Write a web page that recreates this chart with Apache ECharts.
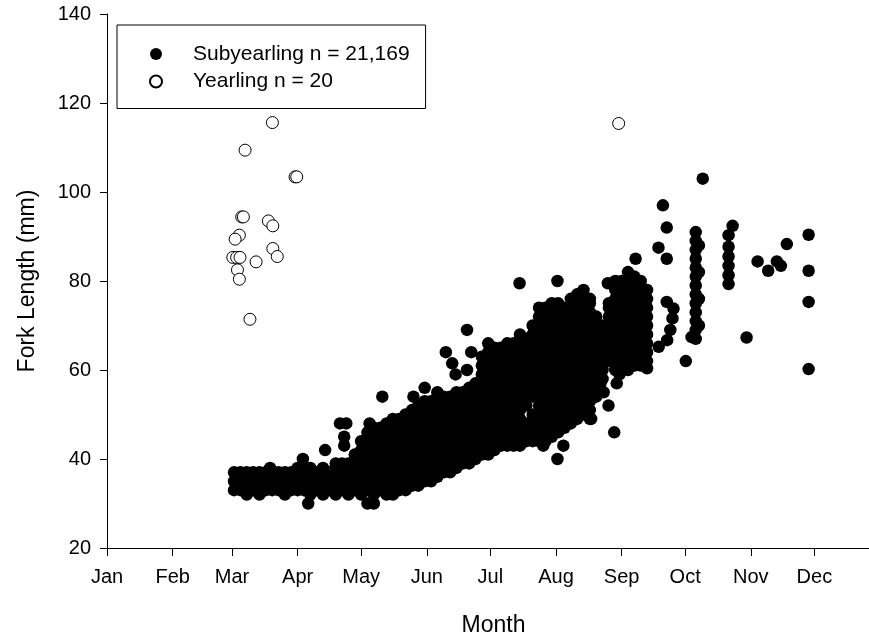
<!DOCTYPE html>
<html>
<head>
<meta charset="utf-8">
<script src="https://cdn.jsdelivr.net/npm/echarts@6/dist/echarts.min.js"></script>
<style>
  html, body { margin: 0; padding: 0; background: #fff; }
  #chart { width: 869px; height: 639px; }
</style>
</head>
<body>
<div id="chart"></div>
<script>
// x = days since Jan 1, y = fork length (mm)
const monthLabels = ['Jan', 'Feb', 'Mar', 'Apr', 'May', 'Jun', 'Jul', 'Aug', 'Sep', 'Oct', 'Nov', 'Dec'];
const monthStartDays = [0, 31, 59, 90, 120, 151, 181, 212, 243, 273, 304, 334];

// subyearling catch: [day, [lengths]]
const subyearlingColumns = [
    [60, [33, 35, 37]], [63, [33, 35, 37]], [66, [32, 33, 35, 37]], [69, [33, 35, 37]],
    [72, [32, 33, 35, 37]], [75, [33, 35, 37]], [78, [33, 35, 37]], [81, [33, 35, 37]],
    [84, [32, 33, 35, 37]], [87, [33, 35, 37]], [90, [33, 35, 37, 38]], [93, [33, 35, 37, 38]],
    [96, [32, 34, 36, 38]], [99, [33, 35, 37]], [102, [32, 34, 36, 38]], [105, [33, 35, 37]],
    [108, [32, 34, 36, 38, 39]], [111, [33, 35, 37, 39]], [114, [32, 34, 36, 38, 39]],
    [117, [33, 35, 37, 39, 41]], [120, [32, 34, 36, 38, 40, 42, 44]],
    [123, [33, 35, 37, 39, 41, 43, 45, 46]], [126, [32, 34, 36, 38, 40, 42, 44, 46, 47]],
    [129, [33, 35, 37, 39, 41, 43, 45, 47]], [132, [32, 34, 36, 38, 40, 42, 44, 46, 48]],
    [135, [32, 34, 36, 38, 40, 42, 44, 46, 48, 49]], [138, [33, 35, 37, 39, 41, 43, 45, 47, 49]],
    [141, [33, 35, 37, 39, 41, 43, 45, 47, 49, 50]], [144, [34, 36, 38, 40, 42, 44, 46, 48, 50, 51]],
    [147, [34, 36, 38, 40, 42, 44, 46, 48, 50, 52]], [150, [35, 37, 39, 41, 43, 45, 47, 49, 51, 53]],
    [153, [35, 37, 39, 41, 43, 45, 47, 49, 51, 53]], [156, [36, 38, 40, 42, 44, 46, 48, 50, 52, 54]],
    [159, [37, 39, 41, 43, 45, 47, 49, 51, 53, 54]], [162, [37, 39, 41, 43, 45, 47, 49, 51, 53, 54]],
    [165, [38, 40, 42, 44, 46, 48, 50, 52, 54, 55]], [168, [39, 41, 43, 45, 47, 49, 51, 53, 55]],
    [171, [39, 41, 43, 45, 47, 49, 51, 53, 55, 56]], [174, [40, 42, 44, 46, 48, 50, 52, 54, 56, 57]],
    [177, [41, 43, 45, 47, 49, 51, 53, 55, 57, 59, 61, 63]],
    [180, [41, 43, 45, 47, 49, 51, 53, 55, 57, 59, 61, 63, 64]],
    [183, [42, 44, 46, 48, 50, 52, 54, 56, 58, 60, 62, 64, 65]],
    [186, [43, 45, 47, 49, 51, 53, 55, 57, 59, 61, 63, 65]],
    [189, [43, 45, 47, 49, 51, 53, 55, 57, 59, 61, 63, 65, 66]],
    [192, [43, 45, 47, 49, 51, 53, 55, 57, 59, 61, 63, 65, 66]],
    [195, [43, 45, 47, 49, 51, 53, 55, 57, 59, 61, 63, 65, 67, 68]],
    [198, [44, 46, 48, 52, 54, 56, 58, 60, 62, 64, 66, 67]],
    [201, [44, 46, 48, 50, 54, 56, 58, 60, 62, 64, 66, 68, 70]],
    [204, [44, 46, 48, 50, 52, 54, 56, 58, 60, 62, 64, 66, 68, 70, 72, 74]],
    [207, [44, 46, 48, 50, 52, 54, 56, 58, 60, 62, 64, 66, 68, 70, 72, 74]],
    [210, [45, 47, 49, 51, 53, 55, 57, 59, 61, 63, 65, 67, 69, 71, 73, 75]],
    [213, [46, 48, 50, 52, 54, 56, 58, 60, 62, 64, 66, 68, 70, 72, 74, 75]],
    [216, [47, 49, 51, 53, 55, 57, 59, 61, 63, 65, 67, 69, 71, 73, 74]],
    [219, [48, 50, 52, 54, 56, 58, 60, 62, 64, 66, 68, 70, 72, 74, 76]],
    [222, [49, 51, 53, 55, 57, 59, 61, 63, 65, 67, 69, 71, 73, 75, 77]],
    [225, [50, 52, 54, 56, 58, 60, 62, 64, 66, 68, 70, 72, 74, 76, 78]],
    [228, [49, 51, 53, 55, 57, 59, 61, 63, 65, 67, 69, 71, 73, 75, 76]],
    [231, [54, 56, 58, 60, 62, 64, 66, 68, 70, 72]],
    [234, [58, 60, 62, 64, 66, 68, 70]],
    [237, [62, 64, 66, 68, 70, 72, 74, 75]],
    [240, [60, 62, 64, 66, 68, 70, 72, 74, 76, 78, 80]],
    [243, [60, 62, 64, 66, 68, 70, 72, 74, 76, 78, 80]],
    [246, [60, 62, 64, 66, 68, 70, 72, 74, 76, 78, 80, 82]],
    [249, [61, 63, 65, 67, 69, 71, 73, 75, 77, 79, 81]],
    [252, [61, 63, 65, 67, 69, 71, 73, 75, 77, 79, 80]],
    [255, [62, 64, 66, 68, 70, 72, 74, 76, 78]],
    [278, [67, 69, 71, 73, 75, 77, 79, 81, 83, 85, 87, 89, 91]],
    [293.5, [79.3, 81.3, 83.4, 85.5, 87.7, 90.3]]
];

// isolated subyearling fish: [day, length]
const subyearlingSingles = [
    [77, 38], [92.5, 40], [95, 30], [103, 42], [110, 48], [113, 48], [112, 45], [112, 43],
    [123, 30], [124, 48], [126, 30], [130, 54], [144.7, 54], [150, 56], [156, 55],
    [160, 64], [163, 61.5], [164.6, 59], [170, 60], [170, 69], [172, 64], [180, 66],
    [194.8, 79.5], [206, 43], [212.7, 80], [212.7, 40], [215.5, 43], [228.6, 49],
    [233, 57], [234.5, 55], [236.8, 52], [236.5, 79.5], [239.5, 46], [240.7, 57], [242, 59],
    [249.6, 85], [255, 60.4], [260.4, 87.5], [262.5, 97], [264.3, 92], [264.3, 85],
    [264.3, 75.3], [267.5, 73.8], [267, 71.6], [266, 69], [264.5, 66.7], [260.5, 65.2],
    [273.3, 62], [276, 67.4], [279.5, 88], [279.5, 82], [279.5, 76], [279.5, 70],
    [281.3, 103], [295.4, 92.4], [302, 67.3], [307.2, 84.4], [312.2, 82.3], [316.3, 84.4],
    [318.2, 83.4], [321, 88.3], [331.3, 90.4], [331.3, 82.3], [331.3, 75.3], [331.3, 60.2]
];

const yearlingPoints = [
    [78.1, 115.6], [65.2, 109.4], [88.8, 103.4], [89.6, 103.4], [63.6, 94.4], [64.4, 94.4],
    [76.2, 93.5], [78.3, 92.4], [62.5, 90.3], [60.5, 89.4], [78.3, 87.3], [80.4, 85.5],
    [59.4, 85.3], [61.2, 85.3], [62.8, 85.3], [70.4, 84.3], [61.6, 82.5], [62.5, 80.4],
    [67.5, 71.4], [241.6, 115.4]
];

const subyearlingData = [];
subyearlingColumns.forEach(function (col) {
    col[1].forEach(function (len) { subyearlingData.push([col[0], len]); });
});
subyearlingSingles.forEach(function (p) { subyearlingData.push(p); });

const FONT = '"Liberation Sans", Arial, sans-serif';

function getOption() {
    return {
        animation: false,
        backgroundColor: '#fff',
        textStyle: { fontFamily: FONT, color: '#000' },
        grid: {
            left: 107,
            top: 14,
            right: -11,
            bottom: 91,
            outerBoundsMode: 'none'
        },
        legend: {
            orient: 'vertical',
            left: 117,
            top: 25,
            padding: [18.5, 16, 16.5, 32],
            itemGap: 6.5,
            itemWidth: 12,
            itemHeight: 12,
            borderColor: '#000',
            borderWidth: 1,
            backgroundColor: '#fff',
            selectedMode: false,
            textStyle: {
                fontFamily: FONT,
                fontSize: 21,
                lineHeight: 21,
                color: '#000',
                padding: [0, 0, 0, 26]
            },
            data: ['Subyearling n = 21,169', 'Yearling n = 20']
        },
        xAxis: {
            type: 'value',
            min: 0,
            max: 365,
            name: 'Month',
            nameLocation: 'middle',
            nameGap: 66,
            nameTextStyle: { fontFamily: FONT, fontSize: 23, color: '#000' },
            axisLine: { show: true, lineStyle: { color: '#000', width: 1 } },
            axisTick: {
                show: true,
                inside: false,
                length: 8,
                customValues: monthStartDays,
                lineStyle: { color: '#000', width: 1 }
            },
            axisLabel: {
                customValues: monthStartDays,
                margin: 19,
                fontFamily: FONT,
                fontSize: 20,
                color: '#000',
                formatter: function (v) {
                    return monthLabels[monthStartDays.indexOf(v)];
                }
            },
            splitLine: { show: false }
        },
        yAxis: {
            type: 'value',
            min: 20,
            max: 140,
            interval: 20,
            name: 'Fork Length (mm)',
            nameLocation: 'middle',
            nameRotate: 90,
            nameGap: 68,
            nameTextStyle: { fontFamily: FONT, fontSize: 23, color: '#000' },
            axisLine: { show: true, lineStyle: { color: '#000', width: 1 } },
            axisTick: { show: true, inside: false, length: 7, lineStyle: { color: '#000', width: 1 } },
            axisLabel: { margin: 16, fontFamily: FONT, fontSize: 20, color: '#000' },
            splitLine: { show: false }
        },
        series: [
            {
                name: 'Subyearling n = 21,169',
                type: 'scatter',
                symbol: 'circle',
                symbolSize: 12.5,
                itemStyle: { color: '#000', opacity: 1 },
                data: subyearlingData
            },
            {
                name: 'Yearling n = 20',
                type: 'scatter',
                symbol: 'circle',
                symbolSize: 12,
                itemStyle: { color: '#fff', borderColor: '#000', borderWidth: 1, opacity: 1 },
                data: yearlingPoints
            }
        ]
    };
}

const display_chart = () => {
    const myChart = echarts.init(document.getElementById('chart'));
    myChart.setOption(getOption());
};
display_chart();
</script>
</body>
</html>
